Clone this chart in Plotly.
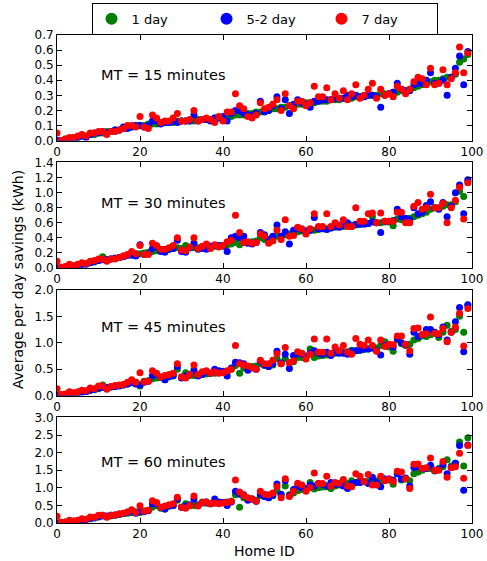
import plotly.graph_objects as go
from plotly.subplots import make_subplots

homes = list(range(100))
series_names = ["1 day", "5-2 day", "7 day"]
series_colors = ["green", "blue", "red"]
panel_titles = ["MT = 15 minutes", "MT = 30 minutes", "MT = 45 minutes", "MT = 60 minutes"]

# ---- MT = 15 minutes ----
g1 = [0.00,0.00,0.01,0.01,0.02,0.02,0.03,0.03,0.04,0.04,
      0.05,0.05,0.06,0.06,0.07,0.07,0.08,0.09,0.09,0.10,
      0.10,0.10,0.11,0.11,0.11,0.12,0.12,0.12,0.12,0.13,
      0.13,0.13,0.13,0.13,0.14,0.14,0.14,0.14,0.15,0.15,
      0.15,0.16,0.16,0.17,0.17,0.17,0.18,0.18,0.19,0.19,
      0.20,0.20,0.21,0.21,0.22,0.22,0.23,0.23,0.24,0.24,
      0.25,0.25,0.25,0.26,0.26,0.26,0.27,0.27,0.27,0.28,
      0.28,0.28,0.29,0.29,0.29,0.30,0.30,0.30,0.31,0.31,
      0.31,0.32,0.32,0.33,0.33,0.34,0.35,0.36,0.37,0.38,
      0.39,0.40,0.40,0.41,0.42,0.42,0.44,0.52,0.54,0.57]
b1 = [0.00,0.00,0.00,0.01,0.01,0.02,0.03,0.02,0.04,0.05,
      0.05,0.06,0.05,0.06,0.07,0.07,0.09,0.08,0.09,0.10,
      0.10,0.09,0.10,0.13,0.13,0.11,0.12,0.12,0.13,0.12,
      0.13,0.13,0.13,0.17,0.13,0.14,0.14,0.13,0.15,0.15,
      0.16,0.13,0.18,0.20,0.20,0.18,0.17,0.17,0.18,0.26,
      0.19,0.20,0.23,0.29,0.21,0.27,0.18,0.24,0.27,0.25,
      0.24,0.22,0.26,0.26,0.27,0.27,0.27,0.28,0.28,0.28,
      0.30,0.29,0.30,0.29,0.29,0.30,0.30,0.29,0.22,0.30,
      0.31,0.32,0.38,0.34,0.33,0.33,0.37,0.38,0.38,0.40,
      0.45,0.38,0.38,0.40,0.30,0.42,0.48,0.56,0.37,0.59]
r1 = [0.05,0.00,0.01,0.02,0.02,0.03,0.04,0.03,0.05,0.05,
      0.06,0.06,0.04,0.06,0.06,0.07,0.08,0.10,0.10,0.09,
      0.16,0.09,0.08,0.17,0.15,0.12,0.13,0.13,0.15,0.18,
      0.13,0.13,0.14,0.20,0.13,0.14,0.15,0.14,0.12,0.16,
      0.13,0.19,0.19,0.31,0.23,0.21,0.16,0.15,0.17,0.25,
      0.21,0.22,0.24,0.27,0.20,0.31,0.23,0.21,0.26,0.26,
      0.23,0.25,0.36,0.29,0.29,0.35,0.27,0.31,0.28,0.33,
      0.27,0.31,0.37,0.28,0.30,0.34,0.38,0.28,0.34,0.30,
      0.31,0.29,0.36,0.34,0.31,0.34,0.39,0.42,0.41,0.37,
      0.48,0.37,0.38,0.47,0.37,0.41,0.45,0.62,0.45,0.58]

# ---- MT = 30 minutes ----
g2 = [0.00,0.01,0.01,0.02,0.03,0.04,0.05,0.06,0.07,0.08,
      0.10,0.15,0.11,0.12,0.13,0.14,0.16,0.17,0.18,0.19,
      0.19,0.20,0.21,0.22,0.23,0.24,0.22,0.25,0.26,0.27,
      0.26,0.30,0.27,0.27,0.27,0.28,0.28,0.29,0.29,0.30,
      0.30,0.31,0.32,0.34,0.31,0.34,0.34,0.35,0.36,0.40,
      0.38,0.36,0.40,0.42,0.42,0.44,0.45,0.47,0.48,0.49,
      0.49,0.50,0.50,0.51,0.52,0.52,0.53,0.54,0.55,0.55,
      0.56,0.57,0.57,0.58,0.59,0.59,0.68,0.60,0.60,0.61,
      0.61,0.56,0.65,0.64,0.65,0.66,0.68,0.70,0.72,0.74,
      0.78,0.80,0.80,0.82,0.84,0.84,0.88,1.02,0.95,1.15]
b2 = [0.00,0.00,0.01,0.02,0.02,0.04,0.05,0.05,0.07,0.09,
      0.10,0.11,0.11,0.12,0.13,0.14,0.15,0.17,0.17,0.16,
      0.31,0.18,0.19,0.26,0.29,0.22,0.21,0.25,0.26,0.37,
      0.22,0.21,0.27,0.33,0.25,0.26,0.25,0.29,0.30,0.30,
      0.29,0.22,0.40,0.42,0.40,0.42,0.33,0.32,0.34,0.47,
      0.44,0.38,0.42,0.57,0.42,0.48,0.32,0.50,0.53,0.51,
      0.49,0.50,0.67,0.52,0.52,0.51,0.53,0.55,0.54,0.57,
      0.60,0.55,0.58,0.58,0.58,0.59,0.61,0.60,0.47,0.62,
      0.62,0.63,0.78,0.68,0.66,0.64,0.80,0.72,0.74,0.83,
      0.88,0.80,0.78,0.87,0.68,0.82,1.00,1.10,0.72,1.17]
r2 = [0.09,0.01,0.02,0.05,0.03,0.05,0.07,0.06,0.09,0.10,
      0.12,0.12,0.09,0.12,0.12,0.14,0.16,0.18,0.22,0.19,
      0.30,0.18,0.18,0.33,0.30,0.25,0.25,0.27,0.30,0.40,
      0.24,0.23,0.28,0.40,0.26,0.29,0.32,0.26,0.31,0.28,
      0.30,0.35,0.37,0.70,0.47,0.34,0.35,0.33,0.34,0.45,
      0.42,0.33,0.36,0.50,0.38,0.64,0.42,0.43,0.54,0.52,
      0.45,0.52,0.72,0.55,0.55,0.72,0.55,0.60,0.57,0.64,
      0.55,0.55,0.80,0.62,0.62,0.72,0.73,0.60,0.73,0.62,
      0.62,0.62,0.74,0.74,0.60,0.60,0.82,0.87,0.78,0.80,
      0.98,0.80,0.80,0.86,0.60,0.80,0.90,1.07,0.65,1.13]

# ---- MT = 45 minutes ----
g3 = [0.00,0.01,0.02,0.03,0.04,0.05,0.07,0.08,0.10,0.11,
      0.13,0.20,0.14,0.16,0.17,0.19,0.20,0.22,0.24,0.25,
      0.18,0.27,0.28,0.32,0.33,0.34,0.30,0.35,0.37,0.50,
      0.35,0.43,0.38,0.38,0.39,0.40,0.41,0.42,0.42,0.43,
      0.44,0.44,0.50,0.57,0.42,0.52,0.54,0.55,0.56,0.60,
      0.57,0.55,0.58,0.70,0.60,0.70,0.62,0.64,0.72,0.72,
      0.72,0.88,0.72,0.75,0.76,0.77,0.78,0.80,0.81,0.82,
      0.83,0.86,0.85,0.86,0.87,0.88,0.90,0.90,0.95,1.02,
      0.92,0.84,1.05,0.98,0.95,0.97,1.05,1.08,1.13,1.12,
      1.15,1.18,1.10,1.20,1.33,1.22,1.25,1.50,1.20,1.70]
b3 = [0.00,0.00,0.01,0.02,0.04,0.05,0.06,0.07,0.10,0.12,
      0.14,0.15,0.15,0.16,0.17,0.18,0.20,0.22,0.25,0.22,
      0.20,0.25,0.27,0.38,0.40,0.35,0.30,0.36,0.38,0.55,
      0.33,0.37,0.40,0.48,0.37,0.40,0.45,0.42,0.50,0.47,
      0.46,0.37,0.52,0.63,0.62,0.60,0.48,0.52,0.50,0.65,
      0.58,0.55,0.60,0.84,0.62,0.78,0.51,0.76,0.80,0.78,
      0.75,0.80,0.85,0.80,0.78,0.82,0.76,0.82,0.80,0.80,
      0.78,0.84,0.85,0.86,0.88,0.88,0.90,0.85,0.77,0.95,
      0.96,0.92,1.08,1.00,0.96,0.78,1.20,1.12,1.15,1.25,
      1.25,1.20,1.15,1.30,1.05,1.20,1.40,1.67,0.83,1.72]
r3 = [0.13,0.02,0.03,0.07,0.05,0.07,0.10,0.09,0.14,0.13,
      0.18,0.18,0.12,0.17,0.19,0.20,0.21,0.25,0.30,0.25,
      0.43,0.26,0.27,0.47,0.42,0.35,0.38,0.40,0.42,0.60,
      0.35,0.33,0.40,0.58,0.40,0.45,0.47,0.42,0.45,0.42,
      0.43,0.47,0.50,0.95,0.60,0.58,0.56,0.53,0.50,0.67,
      0.60,0.60,0.67,0.79,0.60,0.91,0.62,0.66,0.83,0.80,
      0.69,0.78,1.07,0.82,0.82,1.07,0.80,0.92,0.85,0.95,
      0.82,0.78,1.08,0.97,0.95,1.05,0.95,0.84,1.05,0.93,
      0.97,0.96,1.13,1.13,0.97,0.85,1.27,1.28,1.15,1.17,
      1.49,1.18,1.17,1.27,1.02,1.20,1.30,1.56,0.94,1.65]

# ---- MT = 60 minutes ----
g4 = [0.00,0.01,0.02,0.04,0.05,0.07,0.09,0.10,0.12,0.14,
      0.17,0.22,0.18,0.20,0.22,0.24,0.26,0.28,0.30,0.32,
      0.30,0.34,0.36,0.45,0.50,0.42,0.40,0.48,0.50,0.65,
      0.45,0.55,0.50,0.50,0.52,0.60,0.56,0.55,0.57,0.58,
      0.58,0.60,0.62,0.80,0.45,0.72,0.70,0.68,0.65,0.78,
      0.75,0.72,0.78,0.92,0.80,1.05,0.80,0.85,0.92,0.95,
      0.95,1.15,0.97,1.00,1.02,1.03,0.98,1.05,1.08,1.10,
      1.12,1.20,1.15,1.16,1.17,1.18,1.20,1.20,1.18,1.25,
      1.22,1.10,1.40,1.22,1.25,1.20,1.40,1.45,1.50,1.55,
      1.55,1.48,1.55,1.60,1.80,1.62,1.70,2.30,1.62,2.42]
b4 = [0.00,0.00,0.02,0.03,0.05,0.06,0.08,0.10,0.13,0.15,
      0.18,0.20,0.20,0.22,0.23,0.25,0.27,0.30,0.33,0.28,
      0.33,0.32,0.35,0.55,0.55,0.45,0.40,0.48,0.50,0.68,
      0.45,0.48,0.52,0.68,0.50,0.57,0.60,0.55,0.68,0.60,
      0.58,0.50,0.60,0.90,0.82,0.80,0.65,0.68,0.62,0.82,
      0.75,0.72,0.78,1.11,0.82,1.20,0.78,0.95,1.05,1.00,
      0.98,1.08,1.05,1.12,1.10,1.05,1.15,1.10,1.10,1.05,
      0.98,1.12,1.15,1.15,1.18,1.12,1.30,1.15,1.03,1.25,
      1.25,1.22,1.40,1.25,1.28,1.05,1.58,1.60,1.55,1.55,
      1.64,1.50,1.52,1.67,1.40,1.58,1.70,2.20,0.93,2.22]
r4 = [0.19,0.02,0.03,0.08,0.06,0.08,0.12,0.11,0.17,0.16,
      0.22,0.22,0.16,0.22,0.23,0.26,0.28,0.32,0.38,0.30,
      0.49,0.34,0.36,0.63,0.58,0.45,0.48,0.52,0.55,0.73,
      0.45,0.42,0.50,0.77,0.48,0.58,0.60,0.55,0.57,0.55,
      0.57,0.58,0.62,1.22,0.88,0.78,0.72,0.68,0.62,0.90,
      0.82,0.80,0.85,1.04,0.72,1.26,0.75,0.90,1.13,1.08,
      0.90,1.00,1.42,1.12,1.12,1.33,1.05,1.15,1.13,1.24,
      1.05,1.03,1.40,1.33,1.18,1.38,1.08,1.08,1.33,1.20,
      1.25,1.18,1.47,1.45,1.26,0.98,1.67,1.68,1.55,1.57,
      1.85,1.50,1.50,1.75,1.30,1.57,1.60,1.98,1.27,2.20]

panels = [(g1, b1, r1), (g2, b2, r2), (g3, b3, r3), (g4, b4, r4)]
y_ranges = [[0, 0.7], [0, 1.4], [0, 2.0], [0, 3.0]]
y_dticks = [0.1, 0.2, 0.5, 0.5]
label_y = [0.62, 0.62, 0.65, 0.58]

FONT = "DejaVu Sans"

fig = make_subplots(rows=4, cols=1, vertical_spacing=0.045)

for i, data in enumerate(panels):
    for j, vals in enumerate(data):
        fig.add_trace(go.Scatter(
            x=homes, y=vals, mode="markers", name=series_names[j],
            marker=dict(color=series_colors[j], size=7, line=dict(width=0)),
            showlegend=(i == 0), legendgroup=series_names[j],
        ), row=i + 1, col=1)
    fig.update_xaxes(range=[0, 100], dtick=20, tick0=0, row=i + 1, col=1)
    fig.update_yaxes(range=y_ranges[i], dtick=y_dticks[i], tick0=0,
                     tickformat=".1f", row=i + 1, col=1)
    xr = "x domain" if i == 0 else f"x{i+1} domain"
    yr = "y domain" if i == 0 else f"y{i+1} domain"
    fig.add_annotation(text=panel_titles[i], xref=xr, yref=yr, x=0.1, y=label_y[i],
                       xanchor="left", yanchor="middle", showarrow=False,
                       font=dict(family=FONT, size=14.5, color="black"))

axis_style = dict(showline=True, linecolor="black", linewidth=1, mirror="ticks",
                  ticks="inside", ticklen=5, tickcolor="black", showgrid=False,
                  zeroline=False, automargin=False,
                  tickfont=dict(family=FONT, size=12, color="black"))
fig.update_xaxes(**axis_style)
fig.update_yaxes(**axis_style)

fig.add_annotation(text="Average per day savings (kWh)", xref="paper", yref="paper",
                   x=-0.094, y=0.5, textangle=-90, showarrow=False, xanchor="center",
                   yanchor="middle", font=dict(family=FONT, size=14, color="black"))
fig.add_annotation(text="Home ID", xref="paper", yref="paper", x=0.5, y=-0.057,
                   showarrow=False, xanchor="center", yanchor="middle",
                   font=dict(family=FONT, size=14, color="black"))

fig.update_layout(
    width=487, height=561,
    margin=dict(l=57, r=15, t=35, b=38, autoexpand=False),
    paper_bgcolor="white", plot_bgcolor="white",
    font=dict(family=FONT, size=12, color="black"),
    legend=dict(orientation="h", x=0.5, xanchor="center", y=1.066, yanchor="top",
                bordercolor="black", borderwidth=1, bgcolor="white",
                font=dict(family=FONT, size=13, color="black"),
                entrywidth=70, entrywidthmode="pixels", itemsizing="constant",
                tracegroupgap=0),
)

fig.write_html("out.html", config={"displayModeBar": False},
               post_script="document.body.style.margin='0';document.body.style.overflow='hidden';")
